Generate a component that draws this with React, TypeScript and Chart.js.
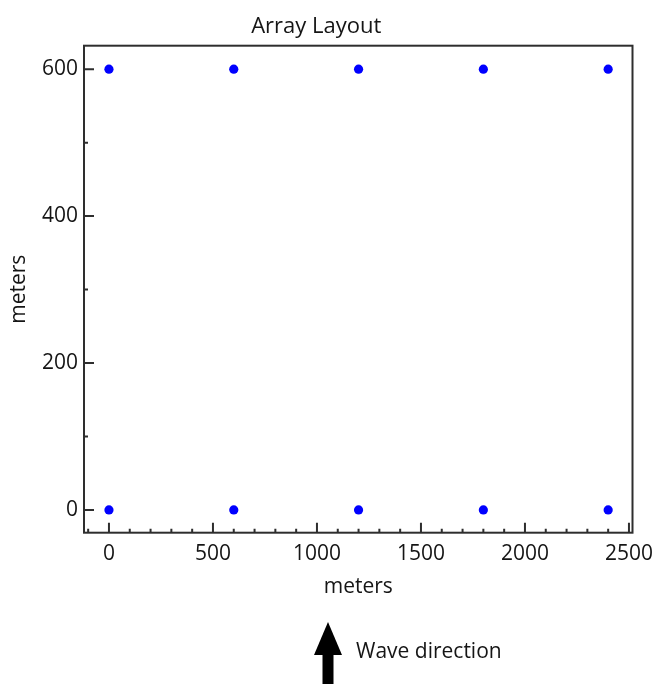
import React, { useEffect, useRef } from 'react';
import { Chart, registerables } from 'chart.js';

Chart.register(...registerables);

// ---- data ----
const deviceX = [0, 600, 1200, 1800, 2400, 0, 600, 1200, 1800, 2400];
const deviceY = [600, 600, 600, 600, 600, 0, 0, 0, 0, 0];

const xMajorTicks = [0, 500, 1000, 1500, 2000, 2500];
const xMinorTicks = [
  -100, 100, 200, 300, 400, 600, 700, 800, 900, 1100, 1200, 1300, 1400,
  1600, 1700, 1800, 1900, 2100, 2200, 2300, 2400,
];
const yMajorTicks = [0, 200, 400, 600];
const yMinorTicks = [100, 300, 500];

const xRange = [-120, 2517];
const yRange = [-31, 632];

const titleText = 'Array Layout';
const xTitle = 'meters';
const yTitle = 'meters';
const noteText = 'Wave direction';

const FONT = "'Open Sans', 'Noto Sans', sans-serif";
const FONT_SIZE = 21;
const TEXT = '#151515';
const LINE = '#2e2e2e';

const framePlugin = {
  id: 'frameTicks',
  afterDraw(chart: any) {
    const { ctx, chartArea, scales } = chart;
    const { left, right, top, bottom } = chartArea;
    ctx.save();
    ctx.strokeStyle = LINE;
    ctx.lineWidth = 2;
    ctx.strokeRect(left, top, right - left, bottom - top);
    ctx.beginPath();
    const tick = (len: number, v: number, horiz: boolean) => {
      if (horiz) {
        const p = scales.x.getPixelForValue(v);
        ctx.moveTo(p, bottom);
        ctx.lineTo(p, bottom - len);
      } else {
        const p = scales.y.getPixelForValue(v);
        ctx.moveTo(left, p);
        ctx.lineTo(left + len, p);
      }
    };
    xMajorTicks.forEach((v) => tick(10, v, true));
    xMinorTicks.forEach((v) => tick(4, v, true));
    yMajorTicks.forEach((v) => tick(10, v, false));
    yMinorTicks.forEach((v) => tick(4, v, false));
    ctx.stroke();
    ctx.restore();
  },
};

export default function App() {
  const ref = useRef<HTMLCanvasElement | null>(null);

  useEffect(() => {
    if (!ref.current) return;
    const chart = new Chart(ref.current, {
      type: 'scatter',
      data: {
        datasets: [
          {
            data: deviceX.map((x, i) => ({ x, y: deviceY[i] })),
            backgroundColor: '#0000ff',
            borderColor: '#0000ff',
            borderWidth: 0,
            pointRadius: 4.6,
            pointHoverRadius: 4.6,
          },
        ],
      },
      options: {
        responsive: false,
        animation: false,
        events: [],
        layout: { padding: { left: 0, right: 21.5, top: 0, bottom: 70 } },
        plugins: {
          legend: { display: false },
          tooltip: { enabled: false },
          title: {
            display: true,
            text: titleText,
            color: TEXT,
            font: { family: FONT, size: 22, weight: 'normal', lineHeight: 1.2 },
            padding: { top: 13.5, bottom: 5.8 },
          },
        },
        scales: {
          x: {
            type: 'linear',
            min: xRange[0],
            max: xRange[1],
            grid: { display: false, drawTicks: false },
            border: { display: false },
            ticks: {
              color: TEXT,
              padding: 9,
              maxRotation: 0,
              font: { family: FONT, size: FONT_SIZE, lineHeight: 1.2 },
              callback: (v: any) => String(v),
            },
            afterBuildTicks: (s: any) => {
              s.ticks = xMajorTicks.map((value) => ({ value }));
            },
            afterFit: (s: any) => {
              s.height = 81.3;
              s.paddingLeft = 0;
              s.paddingRight = 0;
            },
            title: {
              display: true,
              text: xTitle,
              color: TEXT,
              font: { family: FONT, size: FONT_SIZE, lineHeight: 1.2 },
              padding: { top: 0, bottom: 14.4 },
            },
          },
          y: {
            type: 'linear',
            min: yRange[0],
            max: yRange[1],
            grid: { display: false, drawTicks: false },
            border: { display: false },
            ticks: {
              color: TEXT,
              padding: 6,
              font: { family: FONT, size: FONT_SIZE, lineHeight: 1.2 },
              callback: (v: any) => String(v),
            },
            afterBuildTicks: (s: any) => {
              s.ticks = yMajorTicks.map((value) => ({ value }));
            },
            afterFit: (s: any) => {
              s.width = 84;
              s.paddingTop = 0;
              s.paddingBottom = 0;
            },
            title: {
              display: true,
              text: yTitle,
              color: TEXT,
              font: { family: FONT, size: FONT_SIZE, lineHeight: 1.2 },
              padding: { top: 6.9, bottom: 0 },
            },
          },
        },
      },
      plugins: [framePlugin],
    } as any);
    return () => chart.destroy();
  }, []);

  return (
    <div
      style={{
        position: 'absolute',
        left: 0,
        top: 0,
        width: 654,
        height: 684,
        overflow: 'hidden',
        background: '#ffffff',
      }}
    >
      <canvas ref={ref} width={654} height={684} style={{ display: 'block' }} />
      <svg
        width={28}
        height={62}
        style={{ position: 'absolute', left: 314, top: 622 }}
      >
        <polygon points="14,0 28,33 0,33" fill="#000" />
        <rect x={8.5} y={32} width={11} height={30} fill="#000" />
      </svg>
      <div
        style={{
          position: 'absolute',
          left: 356,
          top: 638.4,
          fontFamily: FONT,
          fontSize: FONT_SIZE,
          lineHeight: '25px',
          color: TEXT,
          whiteSpace: 'nowrap',
        }}
      >
        {noteText}
      </div>
    </div>
  );
}
